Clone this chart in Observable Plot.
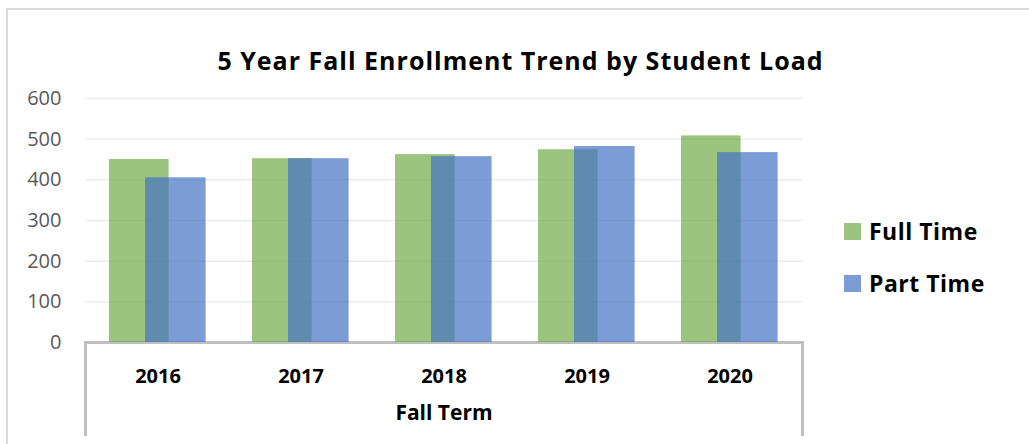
<!DOCTYPE html>
<html>
<head>
<meta charset="utf-8">
<script src="https://cdn.jsdelivr.net/npm/d3@7"></script>
<script src="https://cdn.jsdelivr.net/npm/@observablehq/plot@0.6"></script>
<style>
  html, body { margin: 0; padding: 0; background: #fff; }
  #wrap { position: relative; width: 1029px; height: 444px; overflow: hidden; font-family: "Open Sans", sans-serif; }
  #border { position: absolute; left: 6px; top: 8px; width: 1100px; height: 500px; border: 2px solid #d9d9d9; box-sizing: border-box; }
  #title { position: absolute; left: 0; top: 43px; width: 1041px; text-align: center; font-weight: bold; font-size: 25px; color: #000; letter-spacing: 1px; white-space: nowrap; }
  #chart { position: absolute; left: 0; top: 0; }
  #catframe { position: absolute; left: 84px; top: 341px; width: 720px; height: 95px; border: 3px solid #bfbfbf; border-bottom: none; box-sizing: border-box; }
  .leg { position: absolute; left: 844px; display: flex; align-items: center; font-weight: bold; font-size: 23px; letter-spacing: 0.5px; color: #000; }
  .sw { width: 17px; height: 17px; margin-right: 8px; }
</style>
</head>
<body>
<div id="wrap">
  <div id="border"></div>
  <div id="catframe"></div>
  <div id="chart"></div>
  <div id="title"></div>
  <div id="legend"></div>
</div>
<script>
const years = ["2016", "2017", "2018", "2019", "2020"];
const fullTime = [450, 452, 462, 474, 508];
const partTime = [405, 452, 457, 482, 467];
const yTicks = [0, 100, 200, 300, 400, 500, 600];
const seriesNames = ["Full Time", "Part Time"];
const seriesColors = ["#70AD47", "#4472C4"];
const titleText = "5 Year Fall Enrollment Trend by Student Load";
const axisTitle = ["Fall Term"];

const data = years.map((y, i) => ({year: y, full: fullTime[i], part: partTime[i]}));

const plot = Plot.plot({
  width: 1029,
  height: 444,
  marginLeft: 85,
  marginRight: 227,
  marginTop: 98,
  marginBottom: 102,
  style: {fontFamily: "Open Sans", background: "transparent", overflow: "visible"},
  x: {type: "band", domain: years, padding: 0},
  y: {domain: [0, 600]},
  marks: [
    Plot.ruleY(yTicks.filter(d => d > 0), {stroke: "#ececec", strokeWidth: 1.5}),
    Plot.axisY({ticks: yTicks, tickSize: 0, tickPadding: 24, fontSize: 20, fill: "#595959", label: null, tickFormat: d => String(d)}),
    Plot.axisX({tickSize: 0, tickPadding: 26, fontSize: 20, fontWeight: "bold", fill: "#000", label: null}),
    Plot.barY(data, {x: "year", y: "full", fill: seriesColors[0], fillOpacity: 0.7, insetLeft: 23, insetRight: 60.4}),
    Plot.barY(data, {x: "year", y: "part", fill: seriesColors[1], fillOpacity: 0.7, insetLeft: 59, insetRight: 23.4}),
    Plot.text(axisTitle, {frameAnchor: "bottom", dy: 77, fontSize: 21, fontWeight: "bold", fill: "#000", text: d => d})
  ]
});
document.getElementById("chart").appendChild(plot);

document.getElementById("title").textContent = titleText;

const leg = document.getElementById("legend");
seriesNames.forEach((name, i) => {
  const row = document.createElement("div");
  row.className = "leg";
  row.style.top = (215 + i * 52) + "px";
  const sw = document.createElement("div");
  sw.className = "sw";
  sw.style.background = seriesColors[i];
  sw.style.opacity = 0.7;
  const t = document.createElement("span");
  t.textContent = name;
  row.appendChild(sw);
  row.appendChild(t);
  leg.appendChild(row);
});
</script>
</body>
</html>
